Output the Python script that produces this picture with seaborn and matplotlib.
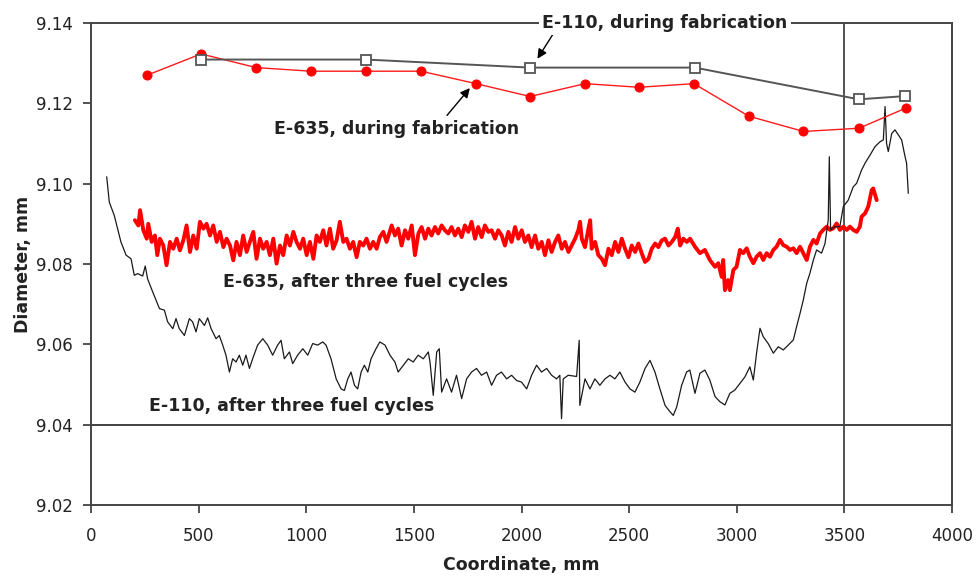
import matplotlib
matplotlib.use("Agg")
import matplotlib.pyplot as plt
import seaborn as sns
import pandas as pd

# ---------------- data ----------------
# E-110, during fabrication (open squares)
fab110_x = [511, 1278, 2040, 2805, 3567, 3782]
fab110_y = [9.1309, 9.1309, 9.1289, 9.1289, 9.1210, 9.1218]

# E-635, during fabrication (red dots)
fab635_x = [260, 511, 767, 1022, 1278, 1533, 1789, 2040, 2295, 2546, 2801, 3056, 3310, 3568, 3785]
fab635_y = [9.1270, 9.1323, 9.1289, 9.1280, 9.1280, 9.1280, 9.1249, 9.1217, 9.1249, 9.1240,
            9.1249, 9.1168, 9.1130, 9.1138, 9.1188]

# E-110, after three fuel cycles (thin black profile)
e110_x = [73, 85, 108, 139, 163, 186, 201, 217, 240, 252, 263, 287, 318, 341, 356, 380, 395, 410,
          434, 457, 472, 488, 503, 527, 542, 558, 581, 596, 612, 627, 643, 658, 674, 689, 705, 720,
          736, 751, 774, 798, 821, 844, 867, 883, 898, 922, 937, 960, 984, 1007, 1030, 1053, 1077,
          1092, 1115, 1139, 1162, 1177, 1193, 1208, 1224, 1239, 1255, 1270, 1286, 1301, 1324, 1342,
          1366, 1389, 1412, 1427, 1451, 1474, 1497, 1520, 1544, 1567, 1575, 1590, 1606, 1618, 1629,
          1652, 1675, 1698, 1722, 1745, 1768, 1791, 1814, 1838, 1861, 1884, 1907, 1931, 1954, 1977,
          2000, 2024, 2047, 2070, 2093, 2117, 2140, 2163, 2178, 2186, 2194, 2217, 2256, 2268, 2271,
          2295, 2318, 2341, 2364, 2388, 2411, 2434, 2457, 2481, 2504, 2527, 2550, 2574, 2597, 2620,
          2643, 2667, 2690, 2705, 2721, 2744, 2767, 2782, 2806, 2829, 2852, 2875, 2899, 2922, 2945,
          2968, 2991, 3015, 3038, 3061, 3077, 3092, 3108, 3123, 3146, 3170, 3193, 3216, 3239, 3263,
          3278, 3294, 3309, 3325, 3340, 3356, 3371, 3394, 3410, 3425, 3430, 3436, 3456, 3479, 3495,
          3518, 3541, 3557, 3580, 3596, 3619, 3642, 3665, 3681, 3689, 3696, 3704, 3720, 3735, 3751,
          3766, 3782, 3789, 3797]
e110_y = [9.1017, 9.0954, 9.0921, 9.0855, 9.0822, 9.0813, 9.0772, 9.0776, 9.0770, 9.0795, 9.0763,
          9.0730, 9.0689, 9.0685, 9.0656, 9.0639, 9.0664, 9.0639, 9.0622, 9.0664, 9.0656, 9.0631,
          9.0664, 9.0647, 9.0666, 9.0639, 9.0614, 9.0622, 9.0598, 9.0573, 9.0531, 9.0564, 9.0556,
          9.0573, 9.0548, 9.0573, 9.0540, 9.0564, 9.0598, 9.0614, 9.0598, 9.0573, 9.0598, 9.0610,
          9.0564, 9.0581, 9.0552, 9.0573, 9.0589, 9.0573, 9.0602, 9.0598, 9.0606, 9.0598, 9.0564,
          9.0514, 9.0489, 9.0485, 9.0514, 9.0531, 9.0498, 9.0489, 9.0531, 9.0548, 9.0531, 9.0564,
          9.0589, 9.0606, 9.0598, 9.0573, 9.0556, 9.0531, 9.0548, 9.0564, 9.0556, 9.0573, 9.0564,
          9.0581, 9.0556, 9.0473, 9.0581, 9.0589, 9.0481, 9.0514, 9.0481, 9.0523, 9.0465, 9.0514,
          9.0531, 9.0540, 9.0523, 9.0531, 9.0498, 9.0523, 9.0531, 9.0514, 9.0523, 9.0510, 9.0506,
          9.0489, 9.0523, 9.0548, 9.0531, 9.0540, 9.0523, 9.0514, 9.0523, 9.0415, 9.0514, 9.0523,
          9.0520, 9.0610, 9.0448, 9.0514, 9.0489, 9.0514, 9.0498, 9.0514, 9.0523, 9.0514, 9.0531,
          9.0506, 9.0489, 9.0481, 9.0506, 9.0540, 9.0560, 9.0531, 9.0489, 9.0448, 9.0432, 9.0423,
          9.0444, 9.0498, 9.0531, 9.0536, 9.0478, 9.0528, 9.0536, 9.0511, 9.0470, 9.0457, 9.0449,
          9.0478, 9.0486, 9.0503, 9.0519, 9.0544, 9.0511, 9.0578, 9.0640, 9.0619, 9.0602, 9.0578,
          9.0594, 9.0586, 9.0598, 9.0611, 9.0644, 9.0677, 9.0710, 9.0752, 9.0777, 9.0810, 9.0835,
          9.0827, 9.0851, 9.0909, 9.1067, 9.0885, 9.0893, 9.0893, 9.0943, 9.0959, 9.0992, 9.1001,
          9.1034, 9.1051, 9.1071, 9.1092, 9.1104, 9.1109, 9.1192, 9.1100, 9.1080, 9.1125, 9.1134,
          9.1121, 9.1109, 9.1067, 9.1051, 9.0976]

# E-635, after three fuel cycles (thick red profile)
e635_x = [204, 220, 228, 243, 259, 266, 282, 297, 308, 320, 336, 351, 367, 382, 398, 413, 429, 444,
          460, 475, 491, 506, 522, 537, 553, 568, 584, 599, 615, 630, 646, 661, 676, 692, 707, 723,
          738, 754, 769, 785, 800, 816, 831, 847, 862, 878, 893, 909, 924, 940, 955, 971, 986, 1002,
          1017, 1033, 1048, 1063, 1079, 1094, 1110, 1125, 1141, 1156, 1172, 1187, 1203, 1218, 1234,
          1249, 1265, 1280, 1296, 1311, 1327, 1342, 1358, 1373, 1397, 1412, 1427, 1443, 1459, 1474,
          1490, 1505, 1521, 1536, 1552, 1567, 1582, 1598, 1613, 1629, 1644, 1660, 1675, 1691, 1706,
          1722, 1737, 1753, 1768, 1784, 1799, 1815, 1830, 1846, 1861, 1877, 1892, 1908, 1923, 1939,
          1954, 1970, 1985, 2001, 2016, 2032, 2047, 2063, 2078, 2094, 2109, 2125, 2140, 2156, 2171,
          2187, 2202, 2218, 2233, 2249, 2264, 2272, 2280, 2295, 2311, 2319, 2326, 2342, 2357, 2373,
          2388, 2404, 2419, 2435, 2450, 2466, 2481, 2497, 2512, 2528, 2543, 2559, 2574, 2590, 2605,
          2621, 2636, 2652, 2667, 2683, 2698, 2714, 2726, 2737, 2752, 2768, 2783, 2806, 2829, 2852,
          2875, 2899, 2914, 2930, 2937, 2945, 2960, 2968, 2984, 2999, 3015, 3030, 3046, 3061, 3077,
          3092, 3108, 3123, 3139, 3154, 3170, 3185, 3201, 3216, 3232, 3247, 3263, 3278, 3294, 3309,
          3325, 3340, 3356, 3371, 3387, 3402, 3418, 3433, 3449, 3464, 3479, 3495, 3511, 3526, 3541,
          3557, 3572, 3580, 3596, 3611, 3627, 3634, 3650]
e635_y = [9.0909, 9.0896, 9.0934, 9.0884, 9.0863, 9.0900, 9.0855, 9.0871, 9.0822, 9.0863, 9.0846,
          9.0797, 9.0855, 9.0838, 9.0863, 9.0834, 9.0859, 9.0896, 9.0830, 9.0871, 9.0838, 9.0905,
          9.0888, 9.0900, 9.0871, 9.0896, 9.0855, 9.0880, 9.0842, 9.0863, 9.0846, 9.0809, 9.0855,
          9.0822, 9.0871, 9.0830, 9.0855, 9.0880, 9.0813, 9.0863, 9.0838, 9.0855, 9.0822, 9.0863,
          9.0801, 9.0846, 9.0822, 9.0871, 9.0846, 9.0880, 9.0855, 9.0838, 9.0863, 9.0822, 9.0855,
          9.0813, 9.0871, 9.0855, 9.0884, 9.0846, 9.0888, 9.0838, 9.0859, 9.0905, 9.0855, 9.0863,
          9.0838, 9.0855, 9.0817, 9.0855, 9.0846, 9.0863, 9.0838, 9.0855, 9.0838, 9.0867, 9.0880,
          9.0855, 9.0896, 9.0871, 9.0888, 9.0846, 9.0884, 9.0863, 9.0896, 9.0822, 9.0876, 9.0892,
          9.0863, 9.0888, 9.0871, 9.0892, 9.0876, 9.0896, 9.0884, 9.0876, 9.0892, 9.0871, 9.0888,
          9.0867, 9.0896, 9.0880, 9.0905, 9.0863, 9.0892, 9.0867, 9.0896, 9.0880, 9.0884, 9.0863,
          9.0884, 9.0871, 9.0846, 9.0880, 9.0855, 9.0892, 9.0863, 9.0884, 9.0855, 9.0871, 9.0842,
          9.0871, 9.0838, 9.0855, 9.0822, 9.0859, 9.0830, 9.0855, 9.0871, 9.0838, 9.0855, 9.0830,
          9.0846, 9.0863, 9.0884, 9.0905, 9.0863, 9.0842, 9.0888, 9.0909, 9.0838, 9.0855, 9.0822,
          9.0813, 9.0797, 9.0838, 9.0822, 9.0855, 9.0830, 9.0863, 9.0838, 9.0817, 9.0846, 9.0830,
          9.0851, 9.0826, 9.0805, 9.0813, 9.0838, 9.0851, 9.0842, 9.0859, 9.0863, 9.0846, 9.0855,
          9.0867, 9.0888, 9.0846, 9.0863, 9.0855, 9.0863, 9.0843, 9.0827, 9.0835, 9.0810, 9.0793,
          9.0802, 9.0768, 9.0810, 9.0735, 9.0760, 9.0735, 9.0785, 9.0793, 9.0835, 9.0827, 9.0839,
          9.0818, 9.0802, 9.0818, 9.0827, 9.0810, 9.0827, 9.0818, 9.0835, 9.0843, 9.0860, 9.0847,
          9.0843, 9.0835, 9.0839, 9.0827, 9.0843, 9.0827, 9.0810, 9.0843, 9.0860, 9.0851, 9.0876,
          9.0885, 9.0893, 9.0885, 9.0889, 9.0901, 9.0885, 9.0893, 9.0885, 9.0893, 9.0885, 9.0880,
          9.0893, 9.0918, 9.0926, 9.0943, 9.0984, 9.0988, 9.0959]

x_ticks = [0, 500, 1000, 1500, 2000, 2500, 3000, 3500, 4000]
y_ticks = [9.02, 9.04, 9.06, 9.08, 9.10, 9.12, 9.14]

# ---------------- style ----------------
sns.set_style("white")
plt.rcParams['font.family'] = ['DejaVu Sans']

fig = plt.figure(figsize=(9.8, 5.78), dpi=100)
ax = fig.add_axes([91 / 980, 1 - 505 / 578, 861 / 980, 482 / 578])

df110 = pd.DataFrame({"x": e110_x, "y": e110_y})
df635 = pd.DataFrame({"x": e635_x, "y": e635_y})
dfab635 = pd.DataFrame({"x": fab635_x, "y": fab635_y})
dfab110 = pd.DataFrame({"x": fab110_x, "y": fab110_y})

sns.lineplot(data=df635, x="x", y="y", ax=ax, sort=False, estimator=None,
             color="#ff0000", linewidth=2.8, zorder=3)
sns.lineplot(data=df110, x="x", y="y", ax=ax, sort=False, estimator=None,
             color="#1a1a1a", linewidth=0.9, zorder=4)
sns.lineplot(data=dfab635, x="x", y="y", ax=ax, sort=False, estimator=None,
             color="#ff1a1a", linewidth=1.0, marker="o", markersize=6.5,
             markerfacecolor="#ff0000", markeredgecolor="#ff0000", zorder=5)
sns.lineplot(data=dfab110, x="x", y="y", ax=ax, sort=False, estimator=None,
             color="#555555", linewidth=1.4, marker="s", markersize=7,
             markerfacecolor="white", markeredgecolor="#555555", markeredgewidth=1.3, zorder=6)

# reference lines
ax.axhline(9.04, color="#333333", linewidth=1.3, zorder=2)
ax.axvline(3500, color="#444444", linewidth=1.3, zorder=2)

ax.set_xlim(0, 4000)
ax.set_ylim(9.02, 9.14)
ax.set_xticks(x_ticks)
ax.set_xticklabels([str(v) for v in x_ticks])
ax.set_yticks(y_ticks)
ax.set_yticklabels([f"{v:.2f}" for v in y_ticks])
ax.tick_params(axis="both", which="both", direction="out", length=6, width=1.2,
               color="#333333", labelsize=12, labelcolor="#222222")
ax.tick_params(axis="x", pad=10)
ax.tick_params(axis="y", pad=7)
ax.xaxis.set_ticks_position("bottom")
ax.yaxis.set_ticks_position("left")
for s in ax.spines.values():
    s.set_visible(True)
    s.set_color("#444444")
    s.set_linewidth(1.4)

ax.set_xlabel("Coordinate, mm", fontsize=12.5, fontweight="bold", color="#222222", labelpad=8)
ax.set_ylabel("Diameter, mm", fontsize=12.5, fontweight="bold", color="#222222", labelpad=3)
ax.grid(False)

# annotations
tkw = dict(fontsize=12.5, fontweight="bold", color="#222222", ha="center", va="center")
ax.text(2666, 9.1400, "E-110, during fabrication", zorder=10, clip_on=False,
        bbox=dict(facecolor="white", edgecolor="none", pad=2.5), **tkw)
ax.annotate("", xy=(2074, 9.1311), xytext=(2146, 9.1372),
            arrowprops=dict(arrowstyle="-|>", color="black", lw=1.0, mutation_scale=14,
                            shrinkA=0, shrinkB=0), zorder=9)
ax.text(1421, 9.1136, "E-635, during fabrication", zorder=10, **tkw)
ax.annotate("", xy=(1760, 9.1238), xytext=(1654, 9.1170),
            arrowprops=dict(arrowstyle="-|>", color="black", lw=1.0, mutation_scale=14,
                            shrinkA=0, shrinkB=0), zorder=9)
ax.text(1276, 9.0755, "E-635, after three fuel cycles", zorder=10, **tkw)
ax.text(930, 9.0447, "E-110, after three fuel cycles", zorder=10, **tkw)

fig.savefig("out.png", dpi=100)
